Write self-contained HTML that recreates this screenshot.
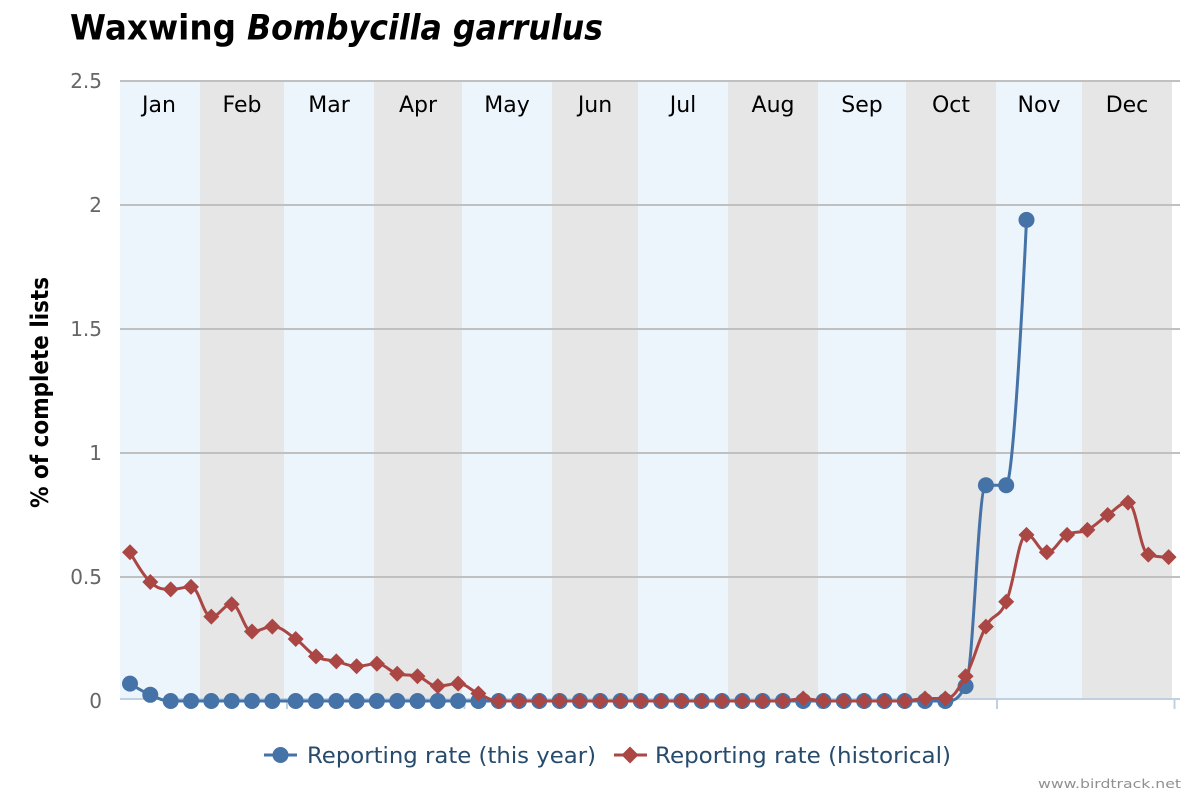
<!DOCTYPE html>
<html>
<head>
<meta charset="utf-8">
<style>
  html,body{margin:0;padding:0;background:#fff;}
  svg{display:block;}
  text{font-family:"DejaVu Sans","Liberation Sans",sans-serif;}
</style>
</head>
<body>
<svg id="c" width="1200" height="800" viewBox="0 0 1200 800" xmlns="http://www.w3.org/2000/svg">
  <rect x="0" y="0" width="1200" height="800" fill="#ffffff"/>
  <!-- title -->
  <text x="70" y="39.5" font-size="35" font-weight="bold" fill="#000" textLength="166" lengthAdjust="spacingAndGlyphs">Waxwing</text>
  <text x="247" y="39.5" font-size="35" font-weight="bold" font-style="italic" fill="#000" textLength="356" lengthAdjust="spacingAndGlyphs">Bombycilla garrulus</text>

  <!-- month bands -->
  <g>
    <rect x="120" y="81" width="80" height="618" fill="#ecf5fb"/>
    <rect x="200" y="81" width="84" height="618" fill="#e6e6e6"/>
    <rect x="284" y="81" width="90" height="618" fill="#ecf5fb"/>
    <rect x="374" y="81" width="88" height="618" fill="#e6e6e6"/>
    <rect x="462" y="81" width="90" height="618" fill="#ecf5fb"/>
    <rect x="552" y="81" width="86" height="618" fill="#e6e6e6"/>
    <rect x="638" y="81" width="90" height="618" fill="#ecf5fb"/>
    <rect x="728" y="81" width="90" height="618" fill="#e6e6e6"/>
    <rect x="818" y="81" width="88" height="618" fill="#ecf5fb"/>
    <rect x="906" y="81" width="90" height="618" fill="#e6e6e6"/>
    <rect x="996" y="81" width="86" height="618" fill="#ecf5fb"/>
    <rect x="1082" y="81" width="90" height="618" fill="#e6e6e6"/>
  </g>

  <!-- month labels -->
  <g font-size="22" fill="#000" text-anchor="middle">
    <text x="159" y="112">Jan</text>
    <text x="242" y="112">Feb</text>
    <text x="329" y="112">Mar</text>
    <text x="418" y="112">Apr</text>
    <text x="507" y="112">May</text>
    <text x="595" y="112">Jun</text>
    <text x="683" y="112">Jul</text>
    <text x="773" y="112">Aug</text>
    <text x="862" y="112">Sep</text>
    <text x="951" y="112">Oct</text>
    <text x="1039" y="112">Nov</text>
    <text x="1127" y="112">Dec</text>
  </g>

  <!-- grid lines -->
  <g stroke="#c0c0c0" stroke-width="2">
    <line x1="120" y1="81" x2="1180" y2="81"/>
    <line x1="120" y1="205" x2="1180" y2="205"/>
    <line x1="120" y1="329" x2="1180" y2="329"/>
    <line x1="120" y1="453" x2="1180" y2="453"/>
    <line x1="120" y1="577" x2="1180" y2="577"/>
  </g>

  <!-- x axis -->
  <g stroke="#c0d0e0" stroke-width="2">
    <line x1="120" y1="699" x2="1180" y2="699"/>
    <line x1="287" y1="699" x2="287" y2="709"/>
    <line x1="464.5" y1="699" x2="464.5" y2="709"/>
    <line x1="642" y1="699" x2="642" y2="709"/>
    <line x1="819.5" y1="699" x2="819.5" y2="709"/>
    <line x1="997" y1="699" x2="997" y2="709"/>
    <line x1="1174.5" y1="699" x2="1174.5" y2="709"/>
  </g>

  <!-- y labels -->
  <g font-size="20" fill="#666666" text-anchor="end">
    <text x="102" y="88">2.5</text>
    <text x="102" y="212">2</text>
    <text x="102" y="336">1.5</text>
    <text x="102" y="460">1</text>
    <text x="102" y="584">0.5</text>
    <text x="102" y="708">0</text>
  </g>

  <!-- y axis title -->
  <text transform="translate(48,392.5) rotate(-90)" text-anchor="middle" font-size="24" font-weight="bold" fill="#000" textLength="231" lengthAdjust="spacingAndGlyphs">% of complete lists</text>

  <g id="series"></g>

  <!-- legend -->
  <g>
    <line x1="264" y1="755" x2="297" y2="755" stroke="#4572a7" stroke-width="3"/>
    <circle cx="280.5" cy="755" r="8" fill="#4572a7"/>
    <text x="307" y="763" font-size="22" fill="#274b6d" textLength="289" lengthAdjust="spacingAndGlyphs">Reporting rate (this year)</text>
    <line x1="614" y1="755" x2="647" y2="755" stroke="#aa4643" stroke-width="3"/>
    <path d="M630 746.5 L638.5 755 L630 763.5 L621.5 755 Z" fill="#aa4643"/>
    <text x="655" y="763" font-size="22" fill="#274b6d" textLength="296" lengthAdjust="spacingAndGlyphs">Reporting rate (historical)</text>
  </g>

  <!-- credits -->
  <text x="1038" y="788" font-size="12" fill="#909090" textLength="143" lengthAdjust="spacingAndGlyphs">www.birdtrack.net</text>
</svg>
<script>
(function(){
  var xs=[130,150.3,170.7,191,211.3,231.7,252,272.3];
  for(var k=0;k<44;k++) xs.push(295.7+20.3*k);
  function Y(v){return 701-248*v;}
  var red=[0.6,0.48,0.45,0.46,0.34,0.39,0.28,0.30,
           0.25,0.18,0.16,0.14,0.15,0.11,0.10,0.06,0.07,0.03];
  while(red.length<52) red.push(0);
  red[8+25]=0.01; red[8+31]=0.01; red[8+32]=0.01;
  red[8+33]=0.1; red[8+34]=0.3; red[8+35]=0.4; red[8+36]=0.67;
  red[8+37]=0.6; red[8+38]=0.67; red[8+39]=0.69; red[8+40]=0.75;
  red[8+41]=0.8; red[8+42]=0.59; red[8+43]=0.58;
  var blue=[0.07,0.025];
  while(blue.length<8+33) blue.push(0);
  blue[8+33]=0.06; blue[8+34]=0.87; blue[8+35]=0.87; blue[8+36]=1.94;

  function spline(pts){
    var s=1.5,d=2.5;
    var path='M '+pts[0][0]+' '+pts[0][1];
    var rc=[];
    for(var i=0;i<pts.length;i++){
      var px=pts[i][0],py=pts[i][1];
      var lcx=px,lcy=py;
      if(i>0&&i<pts.length-1){
        var lx=pts[i-1][0],ly=pts[i-1][1],nx=pts[i+1][0],ny=pts[i+1][1];
        lcx=(s*px+lx)/d; lcy=(s*py+ly)/d;
        var rcx=(s*px+nx)/d, rcy=(s*py+ny)/d;
        var c=((rcy-lcy)*(rcx-px))/(rcx-lcx)+py-rcy;
        lcy+=c; rcy+=c;
        if(lcy>ly&&lcy>py){lcy=Math.max(ly,py);rcy=2*py-lcy;}
        else if(lcy<ly&&lcy<py){lcy=Math.min(ly,py);rcy=2*py-lcy;}
        if(rcy>ny&&rcy>py){rcy=Math.max(ny,py);lcy=2*py-rcy;}
        else if(rcy<ny&&rcy<py){rcy=Math.min(ny,py);lcy=2*py-rcy;}
        rc[i]=[rcx,rcy];
      }
      if(i>0){
        var r=rc[i-1]||pts[i-1];
        path+=' C '+r[0].toFixed(2)+' '+r[1].toFixed(2)+' '+lcx.toFixed(2)+' '+lcy.toFixed(2)+' '+px.toFixed(2)+' '+py.toFixed(2);
      }
    }
    return path;
  }
  var NS='http://www.w3.org/2000/svg';
  var g=document.getElementById('series');
  function el(name,attrs){var e=document.createElementNS(NS,name);for(var a in attrs)e.setAttribute(a,attrs[a]);g.appendChild(e);return e;}

  var bp=blue.map(function(v,i){return [xs[i],Y(v)];});
  var rp=red.map(function(v,i){return [xs[i],Y(v)];});

  el('path',{d:spline(bp),fill:'none',stroke:'#4572a7','stroke-width':3,'stroke-linejoin':'round','stroke-linecap':'round'});
  bp.forEach(function(p){el('circle',{cx:p[0],cy:p[1],r:8,fill:'#4572a7'});});

  el('path',{d:spline(rp),fill:'none',stroke:'#aa4643','stroke-width':3,'stroke-linejoin':'round','stroke-linecap':'round'});
  var h=8;
  rp.forEach(function(p){
    var x=p[0],y=p[1];
    el('path',{d:'M'+x+' '+(y-h)+' L'+(x+h)+' '+y+' L'+x+' '+(y+h)+' L'+(x-h)+' '+y+' Z',fill:'#aa4643'});
  });
})();
</script>
</body>
</html>
